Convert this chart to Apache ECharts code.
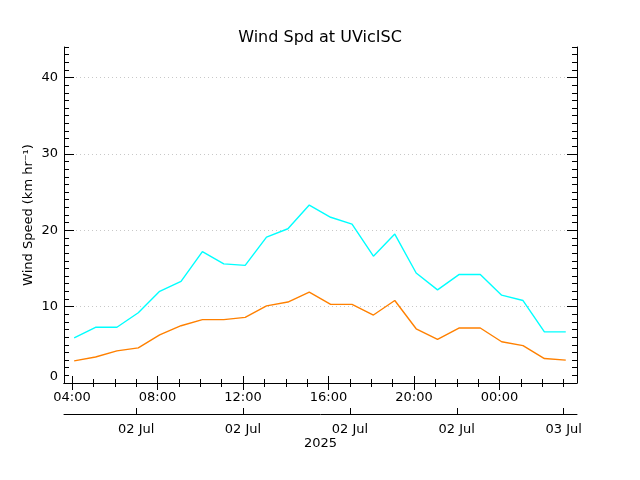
<!DOCTYPE html>
<html><head><meta charset="utf-8">
<script src="https://cdn.jsdelivr.net/npm/echarts@6/dist/echarts.min.js"></script>
<style>html,body{margin:0;padding:0;background:#fff}#c{width:640px;height:480px}</style>
</head><body><div id="c"></div>
<script>
// hours since 2025-07-02 00:00
const hours = [4.1,5.1,6.1,7.1,8.1,9.1,10.1,11.1,12.1,13.1,14.1,15.1,16.1,17.1,18.1,19.1,20.1,21.1,22.1,23.1,24.1,25.1,26.1,27.1];
const windMax  = [5.9,7.3,7.3,9.2,12.0,13.3,17.2,15.6,15.4,19.1,20.2,23.3,21.7,20.8,16.6,19.5,14.4,12.2,14.2,14.2,11.5,10.8,6.7,6.7];
const windMean = [2.9,3.4,4.2,4.6,6.3,7.5,8.3,8.3,8.6,10.1,10.6,11.9,10.3,10.3,8.9,10.8,7.1,5.7,7.2,7.2,5.4,4.9,3.2,3.0];
const timeTicks = [4,8,12,16,20,24];
const timeTickLabels = ['04:00','08:00','12:00','16:00','20:00','00:00'];
const hourTicks = [4,5,6,7,8,9,10,11,12,13,14,15,16,17,18,19,20,21,22,23,24,25,26,27];
const dateTicks = [7,12,17,22,27];
const dateTickLabels = ['02 Jul','02 Jul','02 Jul','02 Jul','03 Jul'];
const yearLabel = '2025';
const yTicks = [0,10,20,30,40];
const yMinorTicks = [0,1,2,3,4,5,6,7,8,9,10,11,12,13,14,15,16,17,18,19,20,21,22,23,24,25,26,27,28,29,30,31,32,33,34,35,36,37,38,39,40,41,42,43,44];
const titleText = 'Wind Spd at UVicISC';
const yName = 'Wind Speed (km hr\u207B\u00B9)';

const FONT = 'DejaVu Sans';
const XMIN = 3.625, XMAX = 27.625, YMIN = 0, YMAX = 44;
const black = '#000';

function xAx(o){
  return Object.assign({type:'value', min:XMIN, max:XMAX, gridIndex:0,
    axisLine:{show:false}, axisTick:{show:false}, axisLabel:{show:false},
    splitLine:{show:false}, minorTick:{show:false}, minorSplitLine:{show:false}}, o);
}
function yAx(o){
  return Object.assign({type:'value', min:YMIN, max:YMAX, interval:10, gridIndex:0,
    axisLine:{show:false}, axisTick:{show:false}, axisLabel:{show:false},
    splitLine:{show:false}}, o);
}

const chart = echarts.init(document.getElementById('c'), null, {renderer:'canvas'});
chart.setOption({
  animation:false,
  backgroundColor:'#fff',
  textStyle:{fontFamily:FONT},
  title:{text:titleText, left:'center', top:25,
    textStyle:{fontFamily:FONT, fontSize:16, fontWeight:'normal', color:black}},
  grid:{left:64, right:63, top:47, bottom:97, containLabel:false},
  xAxis:[
    xAx({position:'bottom',
      axisLine:{show:true, lineStyle:{color:black, width:1, type:[2,1]}},
      axisTick:{show:true, inside:true, length:7, customValues:timeTicks, lineStyle:{color:black}},
      axisLabel:{show:true, customValues:timeTicks, margin:8, fontSize:13, color:black, fontFamily:FONT,
        formatter:v=>{const i=timeTicks.indexOf(v);return i>=0?timeTickLabels[i]:'';}}}),
    xAx({position:'bottom',
      axisTick:{show:true, inside:true, length:4, customValues:hourTicks, lineStyle:{color:black}}}),
    xAx({position:'top',
      axisLine:{show:true, lineStyle:{color:black, width:1}},
      axisTick:{show:true, inside:true, length:7, customValues:timeTicks, lineStyle:{color:black}}}),
    xAx({position:'top',
      axisTick:{show:true, inside:true, length:4, customValues:hourTicks, lineStyle:{color:black}}}),
    xAx({position:'bottom', offset:31,
      axisLine:{show:true, lineStyle:{color:black, width:1}},
      axisTick:{show:true, inside:true, length:6, customValues:dateTicks, lineStyle:{color:black}},
      axisLabel:{show:true, customValues:dateTicks, margin:9, fontSize:13, color:black, fontFamily:FONT,
        formatter:v=>{const i=dateTicks.indexOf(v);return i>=0?dateTickLabels[i]:'';}},
      name:yearLabel, nameLocation:'middle', nameGap:23, nameMoveOverlap:false,
      nameTextStyle:{fontSize:13, color:black, fontFamily:FONT}})
  ],
  yAxis:[
    yAx({position:'left',
      axisLine:{show:true, lineStyle:{color:black, width:1}},
      axisTick:{show:true, inside:true, length:10, customValues:yTicks, lineStyle:{color:black}},
      axisLabel:{show:true, customValues:yTicks, margin:6, fontSize:13, color:black, fontFamily:FONT,
        verticalAlignMinLabel:'bottom'},
      splitLine:{show:true, lineStyle:{color:'#c8c8c8', width:1, type:[1,3]}},
      name:yName, nameLocation:'middle', nameGap:29, nameRotate:90, nameMoveOverlap:false,
      nameTextStyle:{fontSize:13, color:black, fontFamily:FONT}}),
    yAx({position:'left',
      axisTick:{show:true, inside:true, length:5, customValues:yMinorTicks, lineStyle:{color:black}}}),
    yAx({position:'right',
      axisLine:{show:true, lineStyle:{color:black, width:1}},
      axisTick:{show:true, inside:true, length:10, customValues:yTicks, lineStyle:{color:black}}}),
    yAx({position:'right',
      axisTick:{show:true, inside:true, length:5, customValues:yMinorTicks, lineStyle:{color:black}}})
  ],
  series:[
    {type:'line', name:'max', xAxisIndex:0, yAxisIndex:0, symbol:'none',
      lineStyle:{color:'#00ffff', width:1.4}, data:hours.map((h,i)=>[h, windMax[i]])},
    {type:'line', name:'mean', xAxisIndex:0, yAxisIndex:0, symbol:'none',
      lineStyle:{color:'#ff8000', width:1.4}, data:hours.map((h,i)=>[h, windMean[i]])}
  ]
});
</script></body></html>
